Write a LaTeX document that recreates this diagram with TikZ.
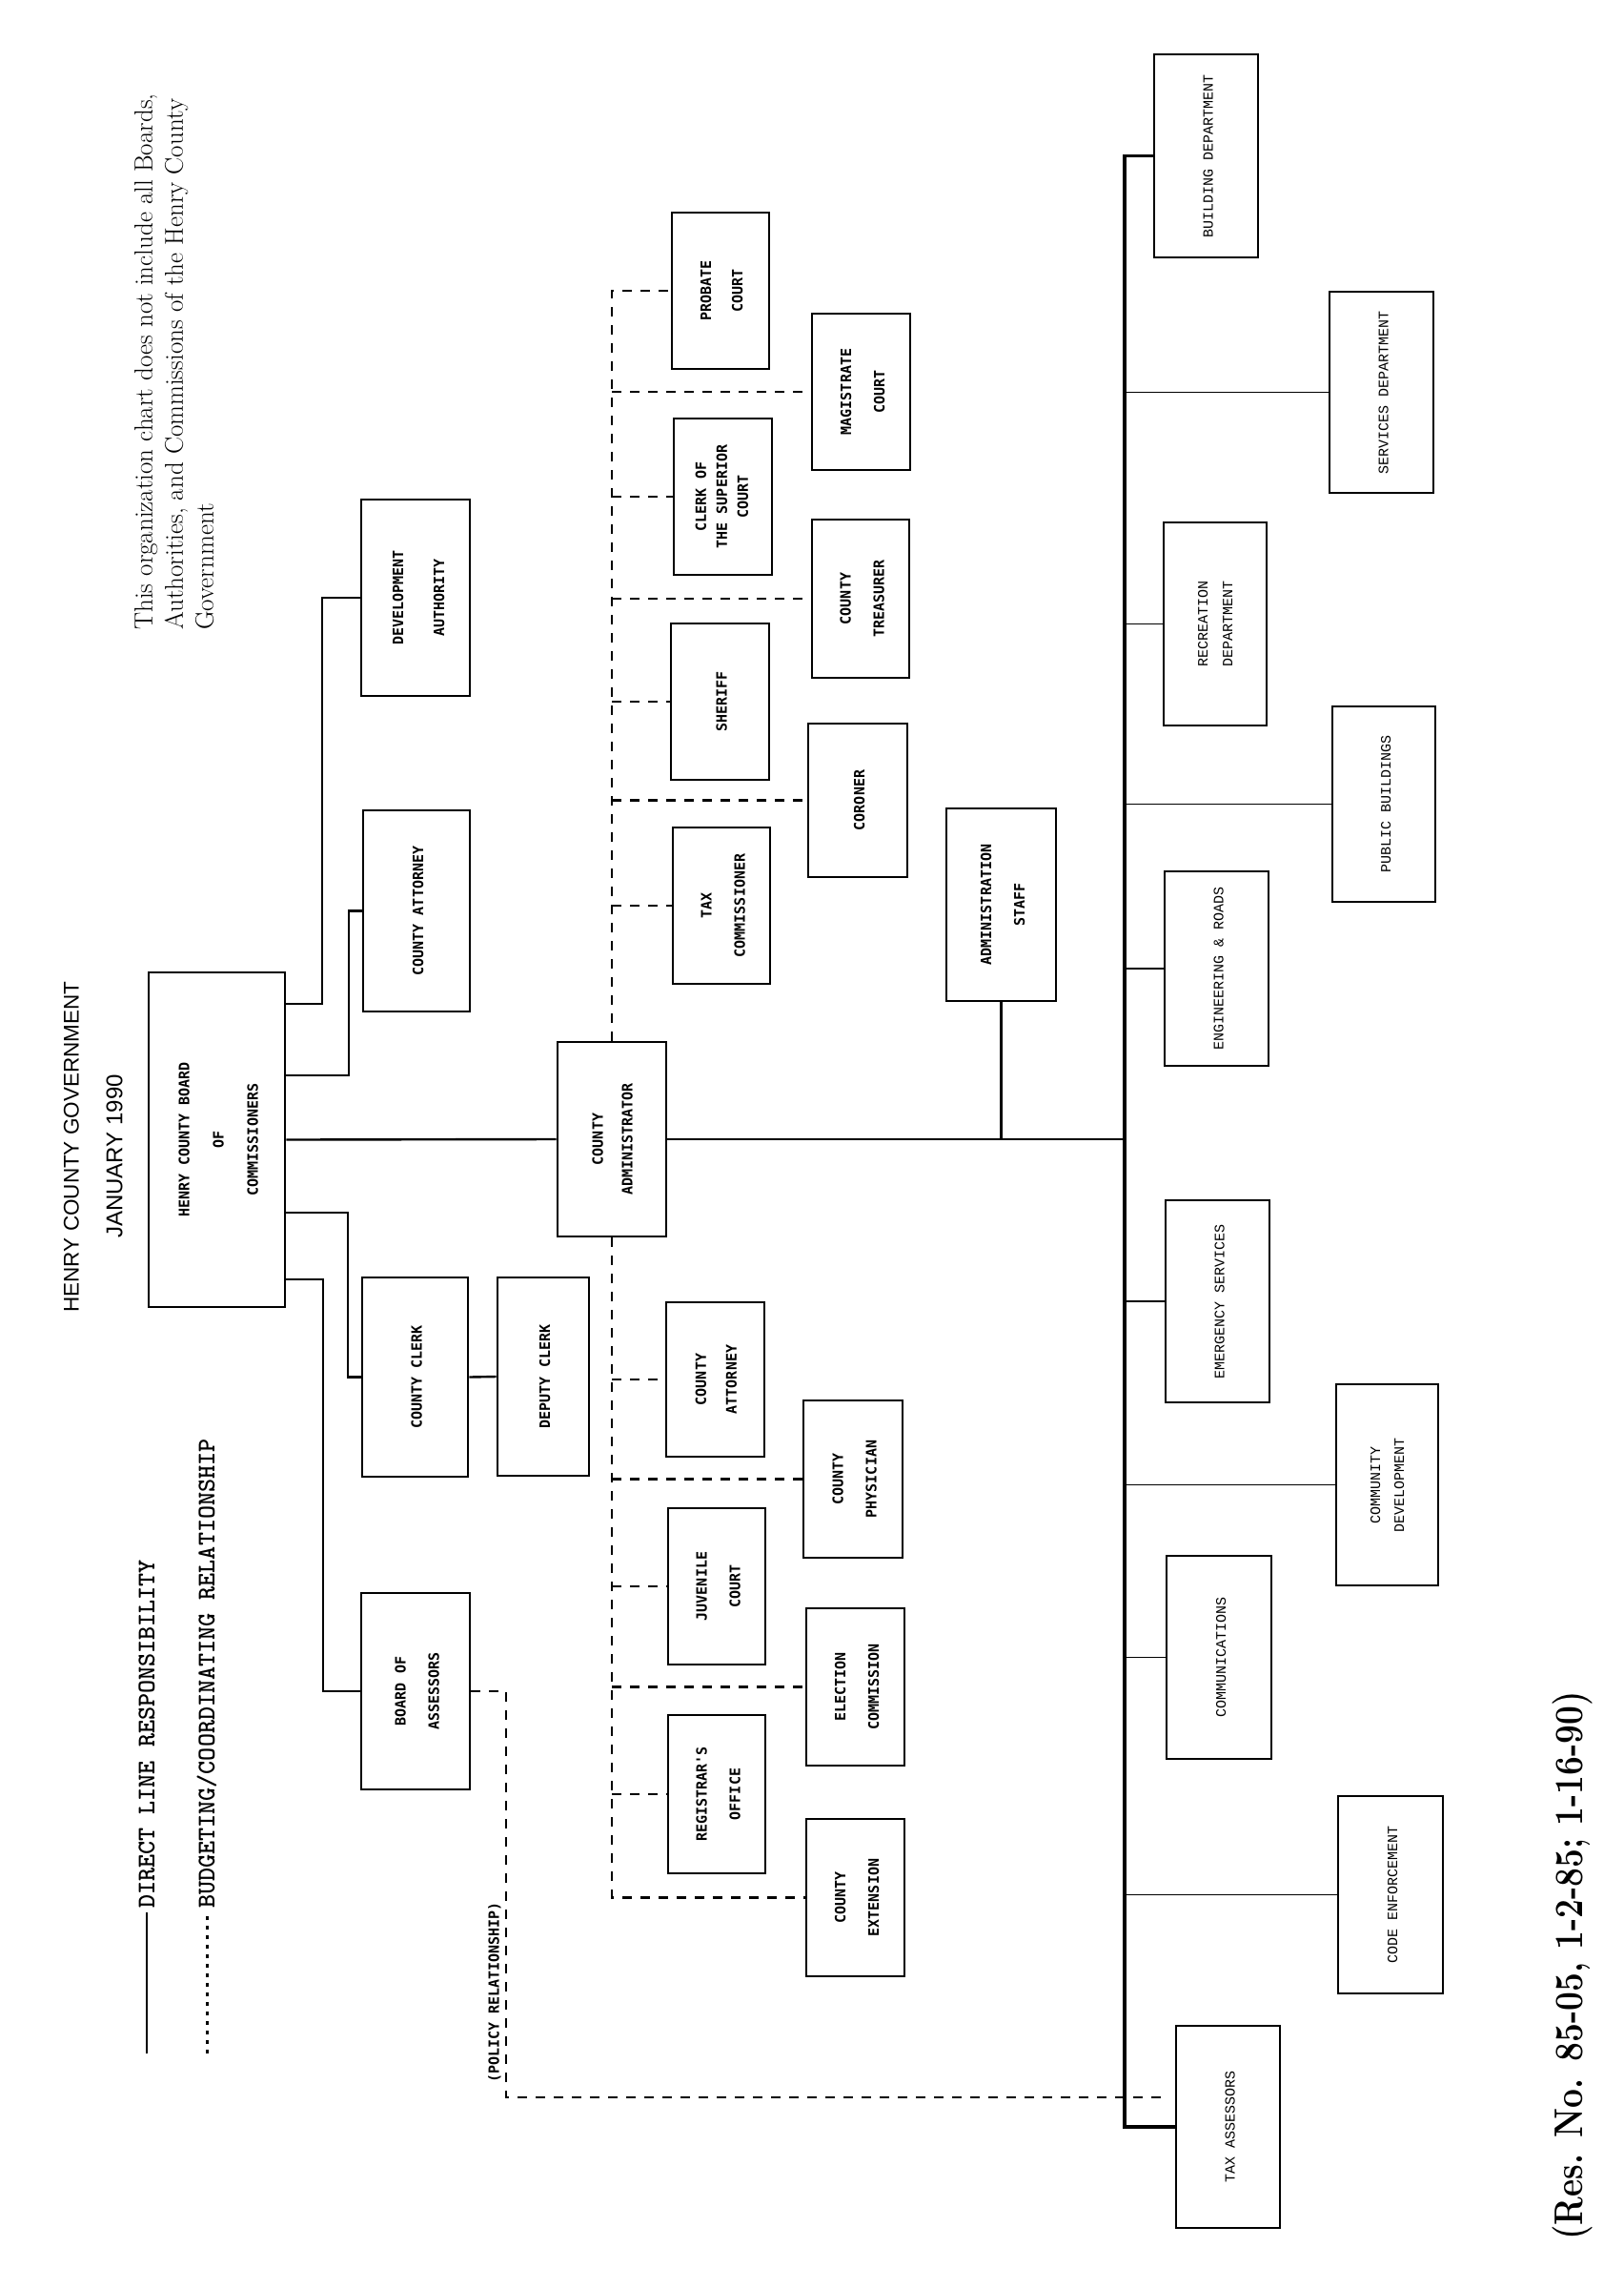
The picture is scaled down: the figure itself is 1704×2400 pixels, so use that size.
\documentclass[tikz,border=0pt]{standalone}
\usepackage{fontspec}
\usepackage{graphicx}
\newfontfamily\lblfont{DejaVu Sans Mono}
\newfontfamily\rfont{Liberation Mono}
\newfontfamily\titlefont{Liberation Sans}
\def\tsh{22}
\newcommand{\Lb}[2][35]{\rotatebox{90}{\fontsize{15}{#1}\selectfont\begin{tabular}{@{}c@{}}#2\end{tabular}}\hspace{\tsh pt}}
\begin{document}
\begin{tikzpicture}[x=1pt,y=-1pt,
  box/.style={draw, line width=2.6pt, inner sep=0pt, font=\lblfont\bfseries},
  rbox/.style={draw, line width=2.2pt, inner sep=0pt, font=\rfont},
  sz/.style 2 args={minimum width=#1pt, minimum height=#2pt},
  tshift/.code={\def\tsh{#1}},
  conn/.style={line width=2.4pt},
  rconn/.style={line width=1.8pt},
  bus/.style={line width=3.8pt},
  dsh/.style={line width=2.6pt, dash pattern=on 10pt off 9pt},
  vtext/.style={rotate=90, inner sep=0pt}
]
\fill[white] (0,0) rectangle (1704,2400);
\useasboundingbox (0,0) rectangle (1704,2400);

% texts
\node[vtext, anchor=north west, align=left, font=\fontsize{27}{32}\selectfont] (note) at (141,661)
  {This organization chart does not include all Boards,\\Authorities, and Commissions of the Henry County\\Government};
\node[vtext, font=\titlefont\fontsize{22.5}{26}\selectfont] (title) at (75,1203) {HENRY COUNTY GOVERNMENT};
\node[vtext, font=\titlefont\fontsize{24}{28}\selectfont] (date) at (120,1213) {JANUARY 1990};
\node[vtext, anchor=west, font=\ttfamily\bfseries\fontsize{26.8}{30}\selectfont] (lg1) at (154,2002) {DIRECT LINE RESPONSIBILITY};
\node[vtext, anchor=west, font=\ttfamily\bfseries\fontsize{26.8}{30}\selectfont] (lg2) at (217,2002) {BUDGETING/COORDINATING RELATIONSHIP};
\coordinate (lg1end) at (154,2154);
\coordinate (lg2end) at (217,2154);
\draw[conn] (lg1end) -- ([yshift=-4pt]lg1.west);
\draw[line width=3pt, dash pattern=on 4pt off 6pt] (lg2end) -- ([yshift=-4pt]lg2.west);
\node[vtext, font=\lblfont\bfseries\fontsize{15}{18}\selectfont] (pol) at (519,2090) {(POLICY RELATIONSHIP)};
\node[vtext, font=\bfseries\fontsize{42}{46}\selectfont] (res) at (1650,2062) {\scalebox{0.84}[1]{(Res. No. 85-05, 1-2-85; 1-16-90)}};

% boxes
\node[box, sz={143}{351}] (hcbc) at (227.5,1195.5) {\Lb[36]{HENRY COUNTY BOARD\\OF\\COMMISSIONERS}};
\node[box, sz={114}{206}, tshift=34] (dev) at (436,627) {\Lb[43]{DEVELOPMENT\\AUTHORITY}};
\node[box, sz={112}{211}, tshift=32] (catt1) at (437,955.5) {\Lb{COUNTY ATTORNEY}};
\node[box, sz={111}{209}, tshift=16] (cclerk) at (435.5,1444.5) {\Lb{COUNTY CLERK}};
\node[box, sz={96}{208}, tshift=0] (dclerk) at (570,1444) {\Lb{DEPUTY CLERK}};
\node[box, sz={114}{206}, tshift=32] (boa) at (436,1774) {\Lb{BOARD OF\\ASSESSORS}};
\node[box, sz={114}{204}, tshift=14] (cadmin) at (642,1195) {\Lb[31]{COUNTY\\ADMINISTRATOR}};
\node[box, sz={102}{164}, tshift=28] (probate) at (756,305) {\Lb[33]{PROBATE\\COURT}};
\node[box, sz={103}{164}, tshift=36] (magis) at (903.5,411) {\Lb{MAGISTRATE\\COURT}};
\node[box, sz={103}{164}] (clerksup) at (758.5,521) {\Lb[22]{CLERK OF\\THE SUPERIOR\\COURT}};
\node[box, sz={102}{166}, tshift=40] (treas) at (903,628) {\Lb{COUNTY\\TREASURER}};
\node[box, sz={103}{164}, tshift=18] (sheriff) at (755.5,736) {\Lb{SHERIFF}};
\node[box, sz={104}{161}, tshift=44] (coroner) at (900,839.5) {\Lb{CORONER}};
\node[box, sz={102}{164}, tshift=36] (taxcomm) at (757,950) {\Lb{TAX\\COMMISSIONER}};
\node[box, sz={115}{202}] (admstaff) at (1050.5,949) {\Lb{ADMINISTRATION\\STAFF}};
\node[box, sz={103}{162}] (catt2) at (750.5,1447) {\Lb[32]{COUNTY\\ATTORNEY}};
\node[box, sz={104}{165}] (cphys) at (895,1551.5) {\Lb{COUNTY\\PHYSICIAN}};
\node[box, sz={102}{164}] (juv) at (752,1664) {\Lb{JUVENILE\\COURT}};
\node[box, sz={103}{165}] (elect) at (897.5,1769.5) {\Lb{ELECTION\\COMMISSION}};
\node[box, sz={102}{166}] (regis) at (752,1882) {\Lb{REGISTRAR'S\\OFFICE}};
\node[box, sz={103}{165}] (cext) at (897.5,1990.5) {\Lb{COUNTY\\EXTENSION}};

\node[rbox, sz={109}{213}] (bldg) at (1265.5,163.5) {\Lb{BUILDING DEPARTMENT}};
\node[rbox, sz={109}{211}, tshift=48] (serv) at (1449.5,411.5) {\Lb{SERVICES DEPARTMENT}};
\node[rbox, sz={108}{213}, tshift=6] (recr) at (1275,654.5) {\Lb[26]{RECREATION\\DEPARTMENT}};
\node[rbox, sz={108}{205}, tshift=50] (pubb) at (1452,843.5) {\Lb{PUBLIC BUILDINGS}};
\node[rbox, sz={109}{204}, tshift=28] (eng) at (1276.5,1016) {\Lb{ENGINEERING \& ROADS}};
\node[rbox, sz={109}{212}, tshift=18] (emer) at (1277.5,1365) {\Lb{EMERGENCY SERVICES}};
\node[rbox, sz={107}{211}, tshift=0] (comdev) at (1455.5,1557.5) {\Lb[25]{COMMUNITY\\DEVELOPMENT}};
\node[rbox, sz={110}{213}] (comm) at (1279,1738.5) {\Lb{COMMUNICATIONS}};
\node[rbox, sz={110}{207}, tshift=28] (code) at (1459,1987.5) {\Lb{CODE ENFORCEMENT}};
\node[rbox, sz={109}{212}, tshift=26] (taxass) at (1288.5,2231) {\Lb{TAX ASSESSORS}};

% direct lines from the board
\draw[conn] ([yshift=142.5pt]hcbc.east) -| ([xshift=-40pt]dev.west) -- (dev.west);
\draw[conn] ([yshift=67.5pt]hcbc.east) -| ([xshift=-14pt]catt1.west) -- (catt1.west);
\draw[conn] ([yshift=-76.5pt]hcbc.east) -| ([xshift=-14pt]cclerk.west) -- (cclerk.west);
\draw[conn] ([yshift=-146.5pt]hcbc.east) -| ([xshift=-39pt]boa.west) -- (boa.west);
\draw[conn] (hcbc.east) -- (cadmin.west);
\draw[conn] (cclerk.east) -- (dclerk.west);

% main line and bus
\coordinate (busx) at (1180,0);
\draw[conn] (cadmin.east) -- (busx |- cadmin.east);
\draw[conn] (admstaff.south) -- (admstaff.south |- cadmin.east);
\draw[bus] (bldg.west) -| (busx |- taxass.west) -- (taxass.west);
\foreach \n in {serv,recr,pubb,eng,emer,comdev,comm,code}
  \draw[rconn] (busx |- \n.west) -- (\n.west);

% budgeting / coordinating relationships
\draw[dsh] (cadmin.north) |- (probate.west);
\foreach \n in {magis,clerksup,treas,sheriff,coroner,taxcomm}
  \draw[dsh] (cadmin.north |- \n.west) -- (\n.west);
\draw[dsh] (cadmin.south) |- (cext.west);
\foreach \n in {catt2,cphys,juv,elect,regis}
  \draw[dsh] (cadmin.south |- \n.west) -- (\n.west);

% policy relationship
\coordinate (polcorner) at (531,2200);
\coordinate (polend) at (1221,2200);
\draw[dsh] (boa.east) -| (polcorner) -- (polend);
\end{tikzpicture}
\end{document}
